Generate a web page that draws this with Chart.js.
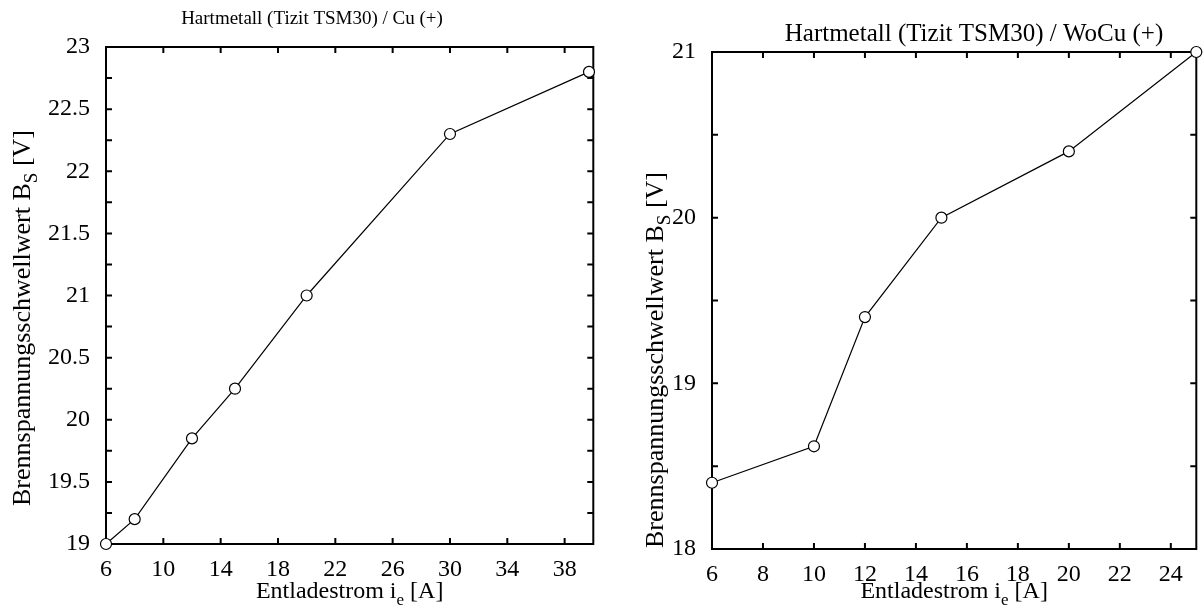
<!DOCTYPE html>
<html>
<head>
<meta charset="utf-8">
<script src="https://cdn.jsdelivr.net/npm/chart.js@4"></script>
<style>
  html, body { margin: 0; padding: 0; background: #fff; }
  #wrap { position: relative; width: 1203px; height: 606px; }
  .panel { position: absolute; top: 0; height: 606px; }
</style>
</head>
<body>
<div id="wrap">
  <div class="panel" style="left:0;width:600px"><canvas id="cu" width="600" height="606"></canvas></div>
  <div class="panel" style="left:600px;width:603px"><canvas id="wocu" width="603" height="606"></canvas></div>
</div>
<script>
// Hartmetall (Tizit TSM30) / Cu (+)
const cuCurrent = [6, 8, 12, 15, 20, 30, 39.7];
const cuVoltage = [19.0, 19.2, 19.85, 20.25, 21.0, 22.3, 22.8];
const cuXTicks = [6, 10, 14, 18, 22, 26, 30, 34, 38];
const cuYTicks = [19, 19.5, 20, 20.5, 21, 21.5, 22, 22.5, 23];
const cuYMinor = [19.25, 19.75, 20.25, 20.75, 21.25, 21.75, 22.25, 22.75];

// Hartmetall (Tizit TSM30) / WoCu (+)
const wocuCurrent = [6, 10, 12, 15, 20, 25];
const wocuVoltage = [18.4, 18.62, 19.4, 20.0, 20.4, 21.0];
const wocuXTicks = [6, 8, 10, 12, 14, 16, 18, 20, 22, 24];
const wocuYTicks = [18, 19, 20, 21];
const wocuYMinor = [18.5, 19.5, 20.5];

const SERIF = '"Liberation Serif", "Times New Roman", serif';

// text with a subscript part: [main, sub, rest], centred on the origin
function drawSubText(ctx, parts, size, subSize, subDrop) {
  ctx.font = size + 'px ' + SERIF;
  const w0 = ctx.measureText(parts[0]).width;
  const w2 = ctx.measureText(parts[2]).width;
  ctx.font = subSize + 'px ' + SERIF;
  const w1 = ctx.measureText(parts[1]).width;
  let x = -(w0 + w1 + w2) / 2;
  ctx.textAlign = 'left';
  ctx.textBaseline = 'alphabetic';
  ctx.font = size + 'px ' + SERIF;
  ctx.fillText(parts[0], x, 0);
  x += w0;
  ctx.font = subSize + 'px ' + SERIF;
  ctx.fillText(parts[1], x, subDrop);
  x += w1;
  ctx.font = size + 'px ' + SERIF;
  ctx.fillText(parts[2], x, 0);
}

// frame with inward ticks on all four sides, plus titles
function framePlugin(cfg) {
  return {
    id: 'frame',
    beforeDatasetsDraw(chart) {
      const { ctx, chartArea: a, scales } = chart;
      const xs = scales.x, ys = scales.y;
      ctx.save();
      ctx.strokeStyle = '#000';
      ctx.lineWidth = 2;
      ctx.strokeRect(a.left, a.top, a.right - a.left, a.bottom - a.top);
      ctx.beginPath();
      const L = 6;
      cfg.xTicks.forEach(v => {
        const px = xs.getPixelForValue(v);
        if (px <= a.left + 1 || px >= a.right - 1) return;
        ctx.moveTo(px, a.bottom); ctx.lineTo(px, a.bottom - L);
        ctx.moveTo(px, a.top); ctx.lineTo(px, a.top + L);
      });
      cfg.yTicks.concat(cfg.yMinor).forEach(v => {
        const py = ys.getPixelForValue(v);
        if (py <= a.top + 1 || py >= a.bottom - 1) return;
        ctx.moveTo(a.left, py); ctx.lineTo(a.left + L, py);
        ctx.moveTo(a.right, py); ctx.lineTo(a.right - L, py);
      });
      ctx.stroke();
      ctx.restore();
    },
    afterDraw(chart) {
      const { ctx, chartArea: a } = chart;
      ctx.save();
      ctx.fillStyle = '#000';
      // chart title
      ctx.font = cfg.titleSize + 'px ' + SERIF;
      ctx.textAlign = 'center';
      ctx.textBaseline = 'alphabetic';
      ctx.fillText(cfg.title, cfg.titleX, cfg.titleY);
      // x axis title
      ctx.save();
      ctx.translate((a.left + a.right) / 2, cfg.xTitleY);
      drawSubText(ctx, ['Entladestrom i', 'e', ' [A]'], 24, 17, 7);
      ctx.restore();
      // y axis title
      ctx.save();
      ctx.translate(cfg.yTitleX, cfg.yTitleY);
      ctx.rotate(-Math.PI / 2);
      drawSubText(ctx, ['Brennspannungsschwellwert B', 'S', ' [V]'], cfg.yTitleSize, 19, 7);
      ctx.restore();
      ctx.restore();
    }
  };
}

function makeChart(id, xs, ys, cfg) {
  const data = xs.map((x, i) => ({ x: x, y: ys[i] }));
  return new Chart(document.getElementById(id), {
    type: 'scatter',
    data: {
      datasets: [{
        data: data,
        showLine: true,
        borderColor: '#000',
        borderWidth: 1.2,
        pointStyle: 'circle',
        pointRadius: 5.5,
        pointBorderWidth: 1.2,
        pointBorderColor: '#000',
        pointBackgroundColor: '#fff',
        clip: false
      }]
    },
    options: {
      responsive: false,
      animation: false,
      devicePixelRatio: 1,
      layout: { padding: cfg.padding },
      plugins: { legend: { display: false }, tooltip: { enabled: false } },
      scales: {
        x: {
          type: 'linear',
          min: cfg.xMin, max: cfg.xMax,
          grid: { display: false },
          border: { display: false },
          afterBuildTicks: s => { s.ticks = cfg.xTicks.map(v => ({ value: v })); },
          afterFit: s => { s.height = cfg.xAxisH; },
          ticks: {
            color: '#000', padding: 3, maxRotation: 0, autoSkip: false,
            font: { family: SERIF, size: 24 },
            callback: v => String(v)
          }
        },
        y: {
          type: 'linear',
          min: cfg.yMin, max: cfg.yMax,
          grid: { display: false },
          border: { display: false },
          afterBuildTicks: s => { s.ticks = cfg.yTicks.map(v => ({ value: v })); },
          afterFit: s => { s.width = cfg.yAxisW; },
          ticks: {
            color: '#000', padding: 8, autoSkip: false,
            font: { family: SERIF, size: 24 },
            callback: v => String(v)
          }
        }
      }
    },
    plugins: [framePlugin(cfg)]
  });
}

makeChart('cu', cuCurrent, cuVoltage, {
  title: 'Hartmetall (Tizit TSM30) / Cu (+)', titleSize: 19,
  titleX: 312, titleY: 24,
  xTitleY: 598, yTitleX: 30, yTitleY: 318, yTitleSize: 26,
  xMin: 6, xMax: 40, yMin: 19, yMax: 23,
  xTicks: cuXTicks, yTicks: cuYTicks, yMinor: cuYMinor,
  padding: { left: 0, right: 3, top: 47, bottom: 0 },
  yAxisW: 106, xAxisH: 62
});

makeChart('wocu', wocuCurrent, wocuVoltage, {
  title: 'Hartmetall (Tizit TSM30) / WoCu (+)', titleSize: 25,
  titleX: 374, titleY: 41,
  xTitleY: 598, yTitleX: 63, yTitleY: 360, yTitleSize: 26,
  xMin: 6, xMax: 25, yMin: 18, yMax: 21,
  xTicks: wocuXTicks, yTicks: wocuYTicks, yMinor: wocuYMinor,
  padding: { left: 0, right: 2, top: 52, bottom: 0 },
  yAxisW: 112, xAxisH: 57
});
</script>
</body>
</html>
